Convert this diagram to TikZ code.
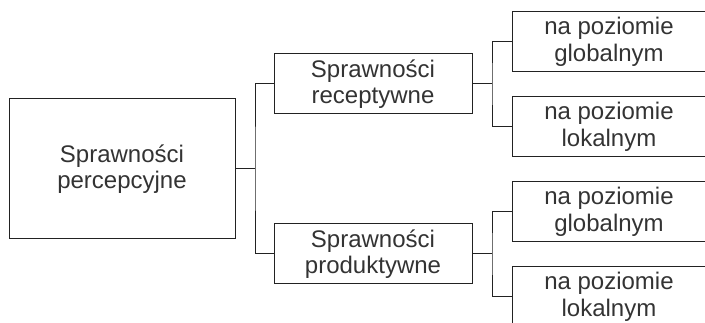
\documentclass[tikz,border=0pt]{standalone}
\usepackage{fontspec}
\setmainfont{Liberation Sans}
\definecolor{ink}{HTML}{222222}
\definecolor{txt}{HTML}{333333}
\tikzset{
  box/.style={draw=ink, line width=1pt, text=txt, align=center, inner sep=0pt,
    font=\fontsize{24}{26.5}\selectfont},
  conn/.style={draw=ink, line width=1pt},
}
\begin{document}
\begin{tikzpicture}[x=1pt,y=-1pt]
\useasboundingbox (0,0) rectangle (705,323);
\clip (0,0) rectangle (705,323);
\node[box, minimum width=226pt, minimum height=140pt] (main) at (122,169) {Sprawności\\percepcyjne};
\node[box, minimum width=198pt, minimum height=60pt] (rec) at (373,84) {Sprawności\\receptywne};
\node[box, minimum width=198pt, minimum height=60pt] (prod) at (373,254) {Sprawności\\produktywne};
\node[box, minimum width=194pt, minimum height=60pt] (g1) at (609,42) {na poziomie\\globalnym};
\node[box, minimum width=194pt, minimum height=60pt] (l1) at (609,127) {na poziomie\\lokalnym};
\node[box, minimum width=194pt, minimum height=60pt] (g2) at (609,212) {na poziomie\\globalnym};
\node[box, minimum width=194pt, minimum height=60pt] (l2) at (609,297) {na poziomie\\lokalnym};
\coordinate (j1) at (255,169);
\coordinate (j2) at (492,84);
\coordinate (j3) at (492,254);
\draw[conn] (main.east) -- (j1);
\draw[conn] (rec.west) -| (j1) |- (prod.west);
\draw[conn] (rec.east) -- (j2);
\draw[conn] (g1.west) -| (j2) |- (l1.west);
\draw[conn] (prod.east) -- (j3);
\draw[conn] (g2.west) -| (j3) |- (l2.west);
\end{tikzpicture}
\end{document}
